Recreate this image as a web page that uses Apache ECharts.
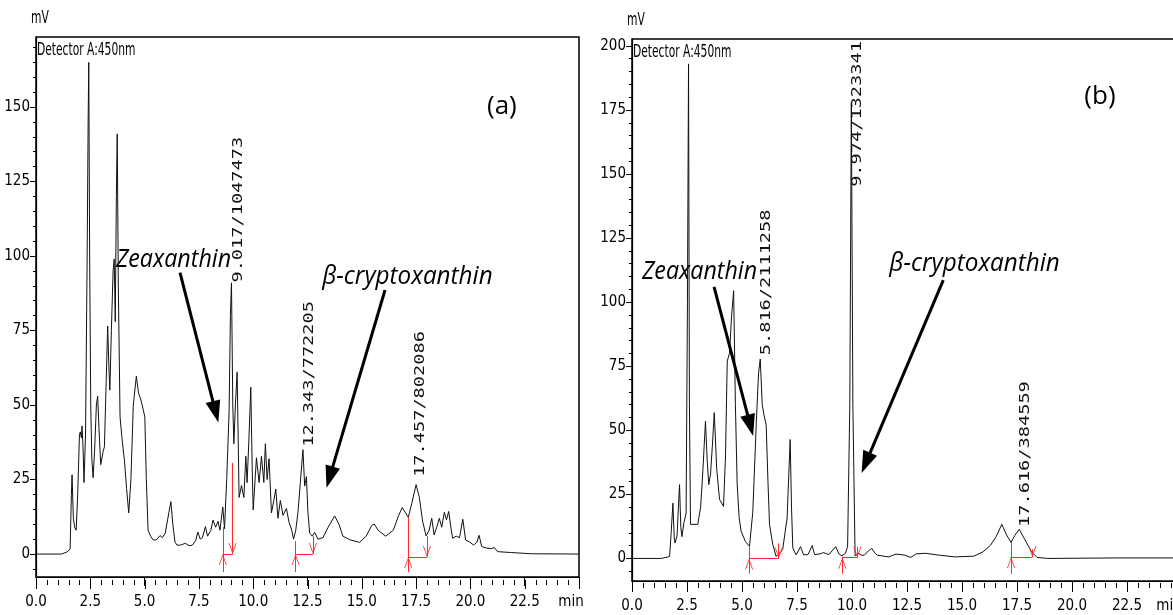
<!DOCTYPE html>
<html><head><meta charset="utf-8">
<script src="https://cdn.jsdelivr.net/npm/echarts@6/dist/echarts.min.js"></script>
<style>html,body{margin:0;padding:0;background:#fff;}#c{width:1173px;height:615px;}</style>
</head><body><div id="c"></div>
<script>
// ---------- DATA ----------
const aTime = [0,1.18,1.45,1.57,1.63,1.66,1.72,1.78,1.85,1.92,2.0,2.04,2.09,2.12,2.17,2.21,2.28,2.35,2.40,2.43,2.47,2.52,2.57,2.63,2.70,2.78,2.84,2.90,2.98,3.09,3.15,3.22,3.30,3.36,3.40,3.47,3.55,3.60,3.65,3.70,3.74,3.79,3.87,3.97,4.07,4.17,4.27,4.37,4.48,4.62,4.72,4.82,4.92,5.01,5.08,5.16,5.28,5.40,5.55,5.71,5.82,5.95,6.02,6.12,6.21,6.30,6.40,6.49,6.65,6.88,7.05,7.20,7.35,7.45,7.56,7.66,7.80,7.90,8.05,8.15,8.27,8.38,8.47,8.60,8.68,8.78,8.89,8.95,9.0,9.06,9.11,9.18,9.26,9.35,9.46,9.57,9.66,9.72,9.80,9.89,9.95,10.0,10.15,10.27,10.38,10.49,10.56,10.64,10.73,10.84,10.95,11.04,11.14,11.25,11.37,11.53,11.65,11.76,11.86,11.96,12.06,12.17,12.29,12.37,12.45,12.52,12.6,12.72,12.83,12.98,13.21,13.45,13.75,13.95,14.13,14.45,14.9,15.2,15.45,15.57,15.75,16.1,16.45,16.7,16.86,17.0,17.14,17.3,17.5,17.65,17.8,17.96,18.1,18.22,18.33,18.45,18.57,18.68,18.8,18.9,19.0,19.1,19.18,19.35,19.5,19.65,19.78,19.97,20.15,20.3,20.4,20.52,20.75,20.95,21.1,21.25,21.9,22.8,25.0];
const aSignal = [0,0,0.8,1.7,20,26.6,12,9,8,20,40,41,39,43,35,24,40,95,145,165,100,50,32,25.6,35,50,53,42,30,34.4,36,55,76.5,62,55,75,95,99,78,120,141,90,46,38,31.6,22,13.8,25,50,59.7,54,52,49,46,25,8,6,4.7,4.8,6.2,5.5,7,7,14,17.6,10,4,3,3,3.6,2.8,3,4.5,7.4,5,5.5,9.2,6,8,11.4,9,11,8,15.8,8.5,25,47.5,80,91,50,37,50,61,19,23,19,32.8,24,38,56,30,14.8,32.3,24,32.8,24,37,25,32,13.8,18,21.8,12,18,13,15.3,10.6,8.4,5,8,14,24,35,22.8,26,14,7,6,7.3,5,5.5,9,12.8,10,6,4.8,3.9,6,9.5,10.1,8,6,8,13,15.6,14,12.3,17,23.3,19,11,6.1,8,12,6.4,9,12,9,14,11.5,14.3,9,5.3,6,5.5,11.7,4.7,4,3,4,6.3,2.5,2,1.8,2.2,0.8,0.5,0.1,0];

const bTime = [0,1.33,1.6,1.71,1.78,1.86,1.92,1.96,2.05,2.12,2.16,2.22,2.27,2.36,2.46,2.52,2.57,2.61,2.66,2.99,3.12,3.22,3.34,3.42,3.49,3.57,3.66,3.74,3.85,3.98,4.16,4.25,4.33,4.43,4.53,4.62,4.70,4.78,4.87,4.96,5.15,5.34,5.49,5.65,5.75,5.83,5.92,6.0,6.1,6.18,6.25,6.4,6.55,6.7,6.85,6.93,7.05,7.19,7.25,7.31,7.46,7.66,7.8,8.0,8.19,8.3,8.55,8.7,8.95,9.26,9.4,9.54,9.7,9.8,9.9,9.97,10.04,10.14,10.3,10.45,10.56,10.75,10.9,11.05,11.15,11.66,12.0,12.4,12.67,12.92,13.35,13.94,14.7,15.54,15.96,16.3,16.55,16.81,17.03,17.23,17.4,17.6,17.87,18.16,18.41,18.9,22.0,25.0];
const bSignal = [0,0,0.5,0.8,10,21.6,8,6,9,22,28.8,12,8.5,14,17.6,100,193,60,13.3,13.3,20,34,53.6,38,28.8,33,45,56.9,35,23,20.3,40,77,80,95,104.5,60,29,16,10.6,6.7,4.7,18,53,72,77.8,60,56,52,30,13.3,5.4,0.8,2,3.5,4,15.8,46.4,20,4,1.4,4.6,1.4,1.5,5,1.5,1.8,2.3,1.5,4.6,1.8,1,2,4.6,60,178,60,1,2,1.2,1.3,3,3.9,2,1.3,0.6,1.7,1.3,0.4,1.8,2,1.3,0.6,0.9,2.6,5.2,8.5,13.3,9.1,6.25,9,11.3,7.2,2.6,0.4,0,0.2,0.2];

const xTickValues = [0,2.5,5,7.5,10,12.5,15,17.5,20,22.5,25];
const xMinorValues = [0.5,1,1.5,2,3,3.5,4,4.5,5.5,6,6.5,7,8,8.5,9,9.5,10.5,11,11.5,12,13,13.5,14,14.5,15.5,16,16.5,17,18,18.5,19,19.5,20.5,21,21.5,22,23,23.5,24,24.5];
const aYTicks = [0,25,50,75,100,125,150];
const bYTicks = [0,25,50,75,100,125,150,175,200];
const aYMinor = [-5,0,5,10,15,20,25,30,35,40,45,50,55,60,65,70,75,80,85,90,95,100,105,110,115,120,125,130,135,140,145,150,155,160,165,170];
const bYMinor = [-5,0,5,10,15,20,25,30,35,40,45,50,55,60,65,70,75,80,85,90,95,100,105,110,115,120,125,130,135,140,145,150,155,160,165,170,175,180,185,190,195,200];

// integration markers (start time, top value at start, end time, top value at end, baseline)
const aIntStart = [8.6, 11.95, 17.14];
const aIntStartTop = [9.0, 4.4, 12.3];
const aIntEnd = [9.05, 12.75, 18.0];
const aIntEndTop = [30.6, 5.9, 6.1];
const aIntBase = [0, 0, -1];
const bIntStart = [5.32, 9.56, 17.23];
const bIntStartTop = [4.9, 0.65, 6.25];
const bIntEnd = [6.67, 10.24, 18.2];
const bIntEndTop = [5.9, 4.6, 3.5];
const bIntBase = [0, 0.3, 0.6];
const intLow = -6;

// peak labels (text, anchor time, anchor value)
const aPeakText = ['9.017/1047473', '12.343/772205', '17.457/802086'];
const aPeakT = [9.3, 12.6, 17.7];
const aPeakV = [91.1, 36.0, 25.9];
const bPeakText = ['5.816/2111258', '9.974/1323341', '17.616/384559'];
const bPeakT = [6.12, 10.25, 17.9];
const bPeakV = [79.3, 145, 12.3];

// compound annotations
const compounds = ['Zeaxanthin', 'β-cryptoxanthin'];
const aCompT = [6.33, 17.1], aCompV = [98.7, 93.1];
const bCompT = [3.07, 15.57], bCompV = [111.8, 115.1];
const aArrowFrom = [[6.63, 94.4], [16.07, 88.6]];
const aArrowTo = [[8.27, 47.7], [13.52, 25.8]];
const bArrowFrom = [[3.73, 106.0], [14.15, 108.6]];
const bArrowTo = [[5.38, 51.9], [10.63, 37.3]];
const panelTags = ['(a)', '(b)'];
const tagT = [21.45, 21.27], tagV = [150.1, 180.4];

// ---------- CHART ----------
const NARROW = "'Liberation Sans Narrow', 'Arial Narrow', 'DejaVu Sans Condensed', sans-serif";
const chart = echarts.init(document.getElementById('c'), null, {renderer: 'canvas'});
const zip = (t, v) => t.map((x, i) => [x, v[i]]);
const GRID = [
  {left: 36, top: 37, width: 543, height: 540},
  {left: 632, top: 39, width: 550, height: 542}
];

function xAx(gi, minPad) {
  return {
    type: 'value', gridIndex: gi, position: 'bottom', min: 0, max: 25, interval: 2.5,
    axisLine: {show: true, onZero: false, lineStyle: {color: '#000', width: 1}},
    axisTick: {show: true, length: 9, lineStyle: {color: '#000', width: 1}},
    splitLine: {show: false},
    axisLabel: {
      margin: 18, color: '#000', fontFamily: NARROW, fontSize: 15, hideOverlap: false,
      formatter: v => v >= 25 ? '{m|min}' : v.toFixed(1),
      rich: {m: {padding: [0, minPad, 0, 0], fontFamily: NARROW, fontSize: 15, color: '#000'}}
    }
  };
}
function yAx(gi, min, max, ticks) {
  return {
    type: 'value', gridIndex: gi, position: 'left', min: min, max: max,
    axisLine: {show: true, onZero: false, lineStyle: {color: '#000', width: 1.2}},
    axisTick: {show: true, length: 6, customValues: ticks, lineStyle: {color: '#000'}},
    axisLabel: {customValues: ticks, margin: 6, color: '#000', fontFamily: NARROW, fontSize: 15},
    splitLine: {show: false}
  };
}
function yMinor(gi, min, max, ticks) {
  return {
    type: 'value', gridIndex: gi, position: 'left', min: min, max: max,
    axisLine: {show: false, onZero: false}, axisLabel: {show: false}, splitLine: {show: false},
    axisTick: {show: true, length: 3, customValues: ticks, lineStyle: {color: '#000'}}
  };
}

const UP = 'path://M0,10L5,0L10,10L9,10L5,2L1,10Z';
const DOWN = 'path://M0,0L5,10L10,0L9,0L5,8L1,0Z';
function intSeries(xi, yi, s, st, e, et, base) {
  const lines = [];
  const pts = [];
  s.forEach((t, i) => {
    lines.push([{coord: [t, intLow]}, {coord: [t, st[i]]}]);
    lines.push([{coord: [t, base[i]]}, {coord: [e[i], base[i]]}]);
    lines.push([{coord: [e[i], base[i]]}, {coord: [e[i], et[i]]}]);
    pts.push({coord: [t, base[i]], symbol: UP, symbolSize: [8, 11], symbolOffset: [0, '50%']});
    pts.push({coord: [e[i], base[i]], symbol: DOWN, symbolSize: [8, 11], symbolOffset: [0, '-50%']});
  });
  return {
    type: 'line', xAxisIndex: xi, yAxisIndex: yi, data: [], silent: true,
    markLine: {silent: true, symbol: ['none', 'none'], label: {show: false},
      lineStyle: {color: '#ff2a2a', width: 1, type: 'solid'}, data: lines, animation: false},
    markPoint: {silent: true, label: {show: false}, itemStyle: {color: '#ff2a2a'}, data: pts, animation: false}
  };
}
function arrowSeries(xi, yi, from, to) {
  return {
    type: 'line', xAxisIndex: xi, yAxisIndex: yi, data: [], silent: true,
    markLine: {silent: true, symbol: ['none', 'triangle'], symbolSize: 18, label: {show: false},
      lineStyle: {color: '#000', width: 3, type: 'solid'},
      data: from.map((f, i) => [{coord: f, symbol: 'none'}, {coord: to[i], symbol: 'triangle', symbolSize: [15, 22]}]), animation: false}
  };
}

const option = {
  animation: false,
  backgroundColor: '#fff',
  grid: [
    Object.assign({show: true, borderColor: '#000', borderWidth: 1.5, backgroundColor: 'transparent'}, GRID[0]),
    Object.assign({show: true, borderColor: '#000', borderWidth: 1.5, backgroundColor: 'transparent', outerBoundsMode: 'none'}, GRID[1])
  ],
  xAxis: [xAx(0, 16), xAx(1, 26)],
  yAxis: [
    yAx(0, -7.7, 173.5, aYTicks), yMinor(0, -7.7, 173.5, aYMinor),
    yAx(1, -8.8, 202.7, bYTicks), yMinor(1, -8.8, 202.7, bYMinor)
  ],
  series: [
    {type: 'line', xAxisIndex: 0, yAxisIndex: 0, data: zip(aTime, aSignal), showSymbol: false, symbol: 'none',
      lineStyle: {color: '#111', width: 1}, silent: true},
    {type: 'line', xAxisIndex: 1, yAxisIndex: 2, data: zip(bTime, bSignal), showSymbol: false, symbol: 'none',
      lineStyle: {color: '#111', width: 1}, silent: true},
    intSeries(0, 0, aIntStart, aIntStartTop, aIntEnd, aIntEndTop, aIntBase),
    intSeries(1, 2, bIntStart, bIntStartTop, bIntEnd, bIntEndTop, bIntBase),
    arrowSeries(0, 0, aArrowFrom, aArrowTo),
    arrowSeries(1, 2, bArrowFrom, bArrowTo)
  ]
};
chart.setOption(option);

const P = (g, t, v) => chart.convertToPixel(g === 0 ? {xAxisIndex: 0, yAxisIndex: 0} : {xAxisIndex: 1, yAxisIndex: 2}, [t, v]);
const tickGap = [3, 2];
const graphics = [];
// x-axis tick marks: x from the axis scale, drawn on a top layer just under each box
[0, 1].forEach(g => {
  const y0 = GRID[g].top + GRID[g].height + tickGap[g];
  const addTick = (v, len) => {
    const px = chart.convertToPixel({xAxisIndex: g}, v);
    const x = Math.round(px) + 0.5;
    graphics.push({type: 'line', silent: true, z: 100, zlevel: 1,
      shape: {x1: x, y1: y0, x2: x, y2: y0 + len},
      style: {stroke: '#000', lineWidth: 1, opacity: 1}});
  };
  xTickValues.forEach(v => addTick(v, 9));
  xMinorValues.forEach(v => addTick(v, 5));
});
function peakLabel(g, text, t, v) {
  const [x, y] = P(g, t, v);
  graphics.push({type: 'text', x: x, y: y, rotation: Math.PI / 2, scaleX: 1.33, silent: true,
    style: {text: text, fontSize: 14, fontFamily: "'DejaVu Sans Mono', monospace", fill: '#111',
      textAlign: 'left', textVerticalAlign: 'middle', align: 'left', verticalAlign: 'middle'}});
}
aPeakText.forEach((s, i) => peakLabel(0, s, aPeakT[i], aPeakV[i]));
bPeakText.forEach((s, i) => peakLabel(1, s, bPeakT[i], bPeakV[i]));
function centerText(g, text, t, v, font, sx) {
  const [x, y] = P(g, t, v);
  graphics.push({type: 'text', x: x, y: y, scaleX: sx, silent: true,
    style: Object.assign({text: text, fill: '#000', textAlign: 'center', textVerticalAlign: 'middle', align: 'center', verticalAlign: 'middle'}, font)});
}
const ital = {fontSize: 25, fontStyle: 'italic', fontFamily: "'Open Sans', sans-serif"};
compounds.forEach((s, i) => {
  const sx = i === 0 ? 0.93 : 0.97;
  centerText(0, s, aCompT[i], aCompV[i], ital, sx);
  centerText(1, s, bCompT[i], bCompV[i], ital, sx);
});
const tagFont = {fontSize: 26, fontFamily: "'Open Sans', sans-serif"};
centerText(0, panelTags[0], tagT[0], tagV[0], tagFont, 1);
centerText(1, panelTags[1], tagT[1], tagV[1], tagFont, 1);
function plain(x, y, text) {
  graphics.push({type: 'text', x: x, y: y, scaleX: 0.7, silent: true,
    style: {text: text, fill: '#000', fontSize: 17, fontFamily: NARROW, textAlign: 'left', textVerticalAlign: 'middle', align: 'left', verticalAlign: 'middle'}});
}
plain(37, 51, 'Detector A:450nm');
plain(31, 19, 'mV');
plain(633, 53, 'Detector A:450nm');
plain(627, 21, 'mV');
chart.setOption({graphic: graphics});
</script>
</body></html>
